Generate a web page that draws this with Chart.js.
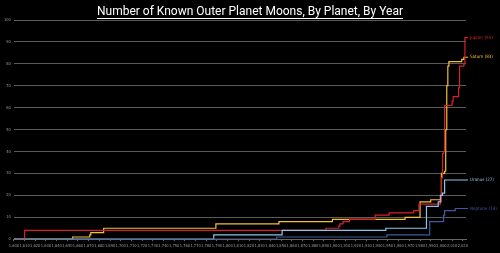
<!DOCTYPE html>
<html>
<head>
<meta charset="utf-8">
<script src="https://cdn.jsdelivr.net/npm/chart.js@4/dist/chart.umd.min.js"></script>
<style>
html,body{margin:0;padding:0;background:#000;}
canvas{display:block;}
</style>
</head>
<body>
<canvas id="c" width="500" height="253"></canvas>
<script>
const titleText = "Number of Known Outer Planet Moons, By Planet, By Year";
const planetNames = ["Jupiter", "Saturn", "Uranus", "Neptune"];
const labelTexts = ["Jupiter (95)", "Saturn (83)", "Uranus (27)", "Neptune (14)"];
const planetColors = ["#d8202c", "#f2c232", "#8cc4ea", "#3c5a9c"];

const jupiterYears = [1600,1610,1892,1904,1905,1908,1914,1938,1951,1974,1979,1999,2000,2001,2002,2003,2010,2011,2016,2017,2021,2022,2023];
const jupiterMoons = [0,4,5,6,7,8,9,11,12,13,16,17,28,39,40,61,63,65,69,79,80,92,92];

const saturnYears = [1600,1655,1671,1672,1684,1789,1848,1898,1966,1980,1990,2000,2003,2004,2005,2006,2007,2019,2021,2023];
const saturnMoons = [0,1,2,3,5,7,8,9,10,17,18,30,31,50,70,79,81,82,83,83];

const uranusYears = [1600,1787,1851,1948,1986,1997,1999,2001,2003,2023];
const uranusMoons = [0,2,4,5,15,17,20,21,27,27];

const neptuneYears = [1600,1846,1949,1989,2002,2003,2013,2023];
const neptuneMoons = [0,1,2,8,11,13,14,14];

const yearTicks = [1600, 2020, 10];
const countTicks = [0, 100, 10];

function pts(xs, ys){ return xs.map((x,i)=>({x:x, y:ys[i]})); }
const seriesData = [pts(jupiterYears, jupiterMoons), pts(saturnYears, saturnMoons), pts(uranusYears, uranusMoons), pts(neptuneYears, neptuneMoons)];

const drawOrder = [3,2,0,1];
const datasets = drawOrder.map(i => ({
  label: planetNames[i],
  data: seriesData[i],
  borderColor: planetColors[i],
  backgroundColor: planetColors[i],
  borderWidth: 1.2,
  pointRadius: 0,
  stepped: true,
  fill: false,
  _labelText: labelTexts[i]
}));

const smallFont = '"Liberation Sans Narrow", "DejaVu Sans Condensed", sans-serif';

const endLabels = {
  id: 'endLabels',
  afterDatasetsDraw(chart){
    const ctx = chart.ctx;
    const xs = chart.scales.x, ys = chart.scales.y;
    ctx.save();
    ctx.font = '4.5px ' + smallFont;
    ctx.textBaseline = 'middle';
    chart.data.datasets.forEach(ds => {
      const last = ds.data[ds.data.length-1];
      const px = xs.getPixelForValue(last.x);
      const py = ys.getPixelForValue(last.y);
      ctx.strokeStyle = ds.borderColor;
      ctx.lineWidth = 1.2;
      ctx.beginPath(); ctx.moveTo(px, py); ctx.lineTo(px+2, py); ctx.stroke();
      ctx.fillStyle = ds.borderColor;
      ctx.fillText(ds._labelText, px + 4, py);
    });
    ctx.restore();
  }
};

const titlePlugin = {
  id: 'titleDraw',
  afterDraw(chart){
    const ctx = chart.ctx;
    ctx.save();
    ctx.font = '12px Roboto';
    ctx.fillStyle = '#ffffff';
    ctx.textAlign = 'center';
    ctx.textBaseline = 'alphabetic';
    const cx = 250, by = 15;
    ctx.fillText(titleText, cx, by);
    const w = ctx.measureText(titleText).width;
    ctx.strokeStyle = '#ffffff';
    ctx.lineWidth = 1;
    ctx.beginPath(); ctx.moveTo(cx - w/2, by + 3.5); ctx.lineTo(cx + w/2, by + 3.5); ctx.stroke();
    ctx.restore();
  }
};

new Chart(document.getElementById('c'), {
  type: 'line',
  data: { datasets: datasets },
  options: {
    responsive: false,
    devicePixelRatio: 1,
    animation: false,
    layout: { padding: { left: 1, right: 34, top: 20, bottom: 3 } },
    plugins: {
      legend: { display: false },
      tooltip: { enabled: false },
      title: { display: false }
    },
    scales: {
      x: {
        type: 'linear',
        min: yearTicks[0],
        max: 2023,
        afterBuildTicks(axis){
          const t = [];
          for(let v = yearTicks[0]; v <= yearTicks[1]; v += yearTicks[2]) t.push({value: v});
          axis.ticks = t;
        },
        ticks: { color: '#9a9a9a', font: { size: 4, family: smallFont }, maxRotation: 0, autoSkip: false, padding: 2 },
        grid: { display: true, drawOnChartArea: false, color: '#666', tickLength: 2 },
        border: { display: true, color: '#666' }
      },
      y: {
        min: countTicks[0],
        max: countTicks[1],
        ticks: { stepSize: countTicks[2], color: '#9a9a9a', font: { size: 4, family: smallFont }, padding: 3 },
        grid: { color: '#5a5a5a', lineWidth: 1, drawTicks: false },
        border: { display: false }
      }
    }
  },
  plugins: [endLabels, titlePlugin]
});
</script>
</body>
</html>
